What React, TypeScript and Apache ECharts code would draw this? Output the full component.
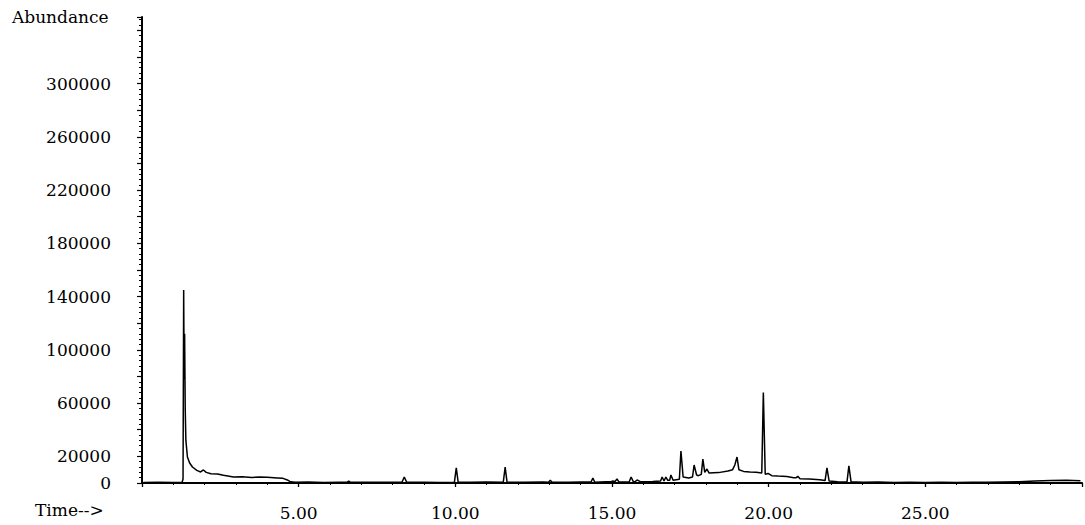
import React, { useEffect, useRef } from "react";
import * as echarts from "echarts";

const times: number[] = [
  0.05, 0.5, 1.0, 1.28, 1.31, 1.33, 1.345, 1.36, 1.38, 1.4, 1.45, 1.52, 1.61, 1.75, 1.87, 1.96,
  2.05, 2.2, 2.41, 2.6, 2.92, 3.2, 3.5, 3.75, 4.0, 4.32, 4.5, 4.64, 4.74, 4.9, 5.3, 5.8,
  6.3, 6.55, 6.6, 6.65, 7.2, 7.8, 8.3, 8.37, 8.45, 9.0, 9.5, 9.97, 10.03, 10.09, 10.5, 11.0,
  11.53, 11.59, 11.65, 12.2, 12.8, 12.97, 13.03, 13.09, 13.6, 14.0, 14.33, 14.39, 14.45, 14.8,
  14.97, 15.03, 15.09, 15.11, 15.16, 15.22, 15.55, 15.61, 15.68, 15.74, 15.8, 15.9, 16.3, 16.55,
  16.6, 16.66, 16.72, 16.78, 16.84, 16.88, 16.95, 17.15, 17.2, 17.27, 17.45, 17.57, 17.62, 17.7,
  17.76, 17.85, 17.9, 17.96, 18.03, 18.1, 18.4, 18.7, 18.85, 18.92, 18.99, 19.05, 19.2, 19.4,
  19.6, 19.78, 19.83, 19.89, 19.98, 20.1, 20.3, 20.58, 20.8, 20.88, 20.93, 21.0, 21.3, 21.63,
  21.8, 21.86, 21.93, 22.2, 22.5, 22.56, 22.63, 23.0, 23.5, 24.0, 24.5, 25.0, 25.5, 26.0,
  26.5, 27.0, 27.5, 28.0, 28.5, 29.0, 29.5, 29.95,
];

const abundance: number[] = [
  400, 500, 400, 500, 3000, 145000, 78000, 112000, 55000, 32000, 19500, 15000, 12000, 9500, 8300, 9800,
  8000, 7000, 6700, 5800, 4500, 4700, 4200, 4500, 4300, 3800, 3500, 2300, 900, 500, 700, 400,
  600, 600, 1500, 500, 600, 500, 700, 4500, 500, 600, 400, 500, 11300, 600, 500, 700,
  500, 12000, 600, 500, 700, 600, 2000, 500, 600, 800, 700, 3800, 600, 900,
  900, 1500, 900, 900, 3000, 800, 900, 4500, 1000, 1000, 2300, 1000, 1200, 1500,
  4500, 1500, 4500, 2000, 2000, 6000, 2000, 2800, 24000, 4500, 3800, 4500, 13500, 6000,
  5500, 6500, 18000, 8000, 10500, 7500, 7800, 9000, 10000, 13500, 19500, 10000, 8700, 8300,
  8000, 7500, 68000, 6500, 7200, 5500, 5200, 4800, 4000, 4000, 5000, 3200, 3000, 2500,
  1800, 11300, 1500, 1000, 800, 12800, 900, 500, 700, 400, 600, 400, 500, 400,
  600, 500, 700, 900, 1500, 1800, 2000, 1600,
];

const yLabelValues: number[] = [0, 20000, 60000, 100000, 140000, 180000, 220000, 260000, 300000];
const xLabelValues: number[] = [5, 10, 15, 20, 25];

const FONT = "DejaVu Serif";
const FS = 17;

export default function App() {
  const ref = useRef<HTMLDivElement>(null);
  useEffect(() => {
    if (!ref.current) return;
    const chart = echarts.init(ref.current, undefined, { renderer: "svg" });
    const data = times.map((t, i) => [t, abundance[i]]);
    chart.setOption({
      animation: false,
      backgroundColor: "#ffffff",
      textStyle: { fontFamily: FONT },
      grid: { left: 142, right: 2, top: 17, bottom: 42 },
      xAxis: {
        type: "value",
        min: 0,
        max: 30,
        interval: 5,
        axisLine: { show: true, lineStyle: { color: "#000", width: 2 } },
        axisTick: { show: true, length: 4, lineStyle: { color: "#000", width: 1.3 } },
        minorTick: { show: true, splitNumber: 5, length: 2, lineStyle: { color: "#000", width: 1 } },
        splitLine: { show: false },
        axisLabel: {
          margin: 21,
          color: "#000",
          fontFamily: FONT,
          fontSize: FS,
          formatter: (v: number) => (xLabelValues.includes(v) ? v.toFixed(2) : ""),
        },
      },
      yAxis: {
        type: "value",
        min: 0,
        max: 350000,
        interval: 20000,
        axisLine: { show: true, lineStyle: { color: "#000", width: 2 } },
        axisTick: { show: true, length: 5, lineStyle: { color: "#000", width: 1.2 } },
        minorTick: { show: true, splitNumber: 5, length: 3, lineStyle: { color: "#000", width: 1 } },
        splitLine: { show: false },
        axisLabel: {
          margin: 31,
          color: "#000",
          fontFamily: FONT,
          fontSize: FS,
          formatter: (v: number) => (yLabelValues.includes(v) ? String(v) : ""),
        },
      },
      graphic: [
        {
          type: "text",
          left: 12,
          top: 8,
          style: { text: "Abundance", fill: "#000", fontFamily: FONT, fontSize: FS },
        },
        {
          type: "text",
          left: 35,
          top: 501,
          style: { text: "Time-->", fill: "#000", fontFamily: FONT, fontSize: FS },
        },
      ],
      series: [
        {
          type: "line",
          data,
          showSymbol: false,
          symbol: "none",
          lineStyle: { color: "#000", width: 1.5 },
        },
      ],
    });
    return () => chart.dispose();
  }, []);
  return (
    <div
      ref={ref}
      style={{ position: "fixed", left: 0, top: 0, width: 1085, height: 525, background: "#fff" }}
    />
  );
}
